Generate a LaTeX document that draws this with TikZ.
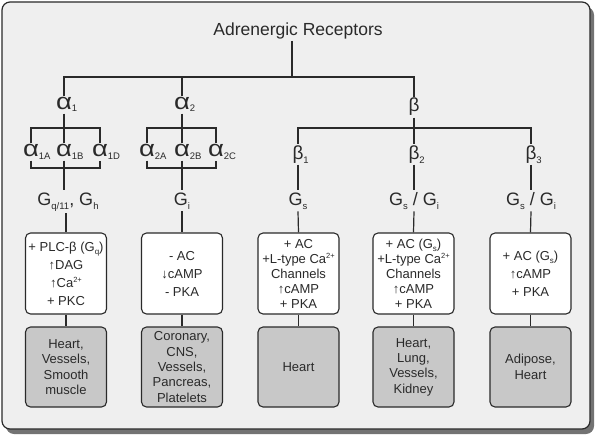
\documentclass[tikz,border=0pt]{standalone}
\usepackage{fontspec}
\setmainfont{Liberation Sans}
\usepackage{graphicx}
\definecolor{panel}{HTML}{EFEFEF}
\definecolor{tissue}{HTML}{C8C8C8}
\definecolor{ink}{HTML}{2A2A2A}
\newcommand\lo[2][-2pt]{\raisebox{#1}{\fontsize{9.5}{9.5}\selectfont #2}}
\newcommand\los[1]{\raisebox{-3pt}{\fontsize{8}{8}\selectfont #1}}
\newcommand\hi[1]{\raisebox{5pt}{\fontsize{7.5}{7.5}\selectfont #1}}
\newcommand\alf{\scalebox{1.45}[1.2]{α}}
\begin{document}
\begin{tikzpicture}[x=1pt,y=-1pt, every node/.style={text=ink},
  link/.style={draw=ink,line width=1.2pt},
  grk/.style={inner sep=1.5pt,font=\fontsize{19}{19}\selectfont},
  gp/.style={inner sep=2pt,font=\fontsize{18}{18}\selectfont},
  fxbox/.style={draw=ink,line width=1.1pt,fill=white,rounded corners=5pt,minimum width=81pt,minimum height=81pt,inner sep=1pt,align=center,font=\fontsize{13}{18}\selectfont},
  tisbox/.style={fxbox,fill=tissue,minimum height=80pt,font=\fontsize{13}{15.3}\selectfont}]
  \useasboundingbox (0,0) rectangle (595,436);
  % panel with drop shadow
  \fill[black!55,rounded corners=8pt] (6,7) rectangle (594,434);
  \draw[ink,line width=1.2pt,fill=panel,rounded corners=8pt] (2,2) rectangle (590,429);

  \node[anchor=base,inner sep=1pt,font=\fontsize{17.5}{17.5}\selectfont] (title) at (298,36) {Adrenergic Receptors};
  \coordinate (bus) at (292,77);

  % receptor types
  \node[grk,anchor=base] (al1) at (64,110) {\alf\rlap{\lo{1}}};
  \node[grk,anchor=base] (al2) at (182,110) {\alf\rlap{\lo{2}}};
  \node[grk,anchor=base] (bet) at (414,112) {β};

  % subtypes
  \coordinate (al1top) at (64,128);
  \coordinate (al1bot) at (64,168);
  \coordinate (al2top) at (182,128);
  \coordinate (al2bot) at (182,168);
  \coordinate (bettop) at (414,128);
  \node[grk,anchor=base] (al1A) at (31,157) {\alf\rlap{\lo{1A}}};
  \node[grk,anchor=base] (al1B) at (64,157) {\alf\rlap{\lo{1B}}};
  \node[grk,anchor=base] (al1D) at (100,157) {\alf\rlap{\lo{1D}}};
  \node[grk,anchor=base] (al2A) at (147,157) {\alf\rlap{\lo{2A}}};
  \node[grk,anchor=base] (al2B) at (182,157) {\alf\rlap{\lo{2B}}};
  \node[grk,anchor=base] (al2C) at (216,157) {\alf\rlap{\lo{2C}}};
  \node[grk,anchor=base] (bet1) at (298,159) {β\rlap{\lo[-4pt]{1}}};
  \node[grk,anchor=base] (bet2) at (414,159) {β\rlap{\lo[-4pt]{2}}};
  \node[grk,anchor=base] (bet3) at (531,159) {β\rlap{\lo[-4pt]{3}}};

  % G proteins
  \node[gp,anchor=base] (g1) at (68,205) {G\lo[-4pt]{q/11}, G\lo[-4pt]{h}};
  \node[gp,anchor=base] (g2) at (182,205) {G\lo[-4pt]{i}};
  \node[gp,anchor=base] (g3) at (298,205) {G\lo[-4pt]{s}};
  \node[gp,anchor=base] (g4) at (414,205) {G\lo[-4pt]{s} / G\lo[-4pt]{i}};
  \node[gp,anchor=base] (g5) at (531,205) {G\lo[-4pt]{s} / G\lo[-4pt]{i}};

  % effectors
  \node[fxbox] (fx1) at (66,273.5) {+ PLC-β (G\los{q})\\↑DAG\\↑Ca\hi{2+}\\+ PKC};
  \node[fxbox] (fx2) at (182,273.5) {- AC\\↓cAMP\\- PKA};
  \node[fxbox,font=\fontsize{13}{15}\selectfont] (fx3) at (298.5,273.5) {+ AC\\+L-type Ca\hi{2+}\\Channels\\↑cAMP\\+ PKA};
  \node[fxbox,font=\fontsize{13}{15}\selectfont] (fx4) at (413.5,273.5) {+ AC (G\los{s})\\+L-type Ca\hi{2+}\\Channels\\↑cAMP\\+ PKA};
  \node[fxbox] (fx5) at (530.5,273.5) {+ AC (G\los{s})\\↑cAMP\\+ PKA};

  % tissues
  \node[tisbox] (tis1) at (66,367) {Heart,\\Vessels,\\Smooth\\muscle};
  \node[tisbox] (tis2) at (182,367) {Coronary,\\CNS,\\Vessels,\\Pancreas,\\Platelets};
  \node[tisbox] (tis3) at (298.5,367) {Heart};
  \node[tisbox] (tis4) at (413.5,367) {Heart,\\Lung,\\Vessels,\\Kidney};
  \node[tisbox] (tis5) at (530.5,367) {Adipose,\\Heart};

  % tree
  \draw[link] (title.south -| bus) -- (bus);
  \draw[link] (al1.north) -- (al1.north |- bus) -- (bet.north |- bus) -- (bet.north);
  \draw[link] (al2.north) -- (al2.north |- bus);
  \draw[link] (al1.south) -- (al1B.north);
  \draw[link] (al1A.north) -- (al1A.north |- al1top) -- (al1D.north |- al1top) -- (al1D.north);
  \draw[link] (al1A.south) -- (al1A.south |- al1bot) -- (al1D.south |- al1bot) -- (al1D.south);
  \draw[link] (al1B.south) -- (al1B.south |- g1.north);
  \draw[link] (al2.south) -- (al2B.north);
  \draw[link] (al2A.north) -- (al2A.north |- al2top) -- (al2C.north |- al2top) -- (al2C.north);
  \draw[link] (al2A.south) -- (al2A.south |- al2bot) -- (al2C.south |- al2bot) -- (al2C.south);
  \draw[link] (al2B.south) -- (g2.north);
  \draw[link] (bet.south) -- (bet2.north);
  \draw[link] (bet1.north) -- (bet1.north |- bettop) -- (bet3.north |- bettop) -- (bet3.north);
  \draw[link] (bet1.south) -- (g3.north);
  \draw[link] (bet2.south) -- (g4.north);
  \draw[link] (bet3.south) -- (g5.north);
  % G protein to effector to tissue
  \draw[link] (fx1.north |- g1.south) -- (fx1.north);
  \draw[link] (g2.south) -- (fx2.north);
  \draw[link] (g3.south) -- (fx3.north);
  \draw[link] (g4.south) -- (fx4.north);
  \draw[link] (g5.south) -- (fx5.north);
  \draw[link] (fx1) -- (tis1);
  \draw[link] (fx2) -- (tis2);
  \draw[link] (fx3) -- (tis3);
  \draw[link] (fx4) -- (tis4);
  \draw[link] (fx5) -- (tis5);
\end{tikzpicture}
\end{document}
